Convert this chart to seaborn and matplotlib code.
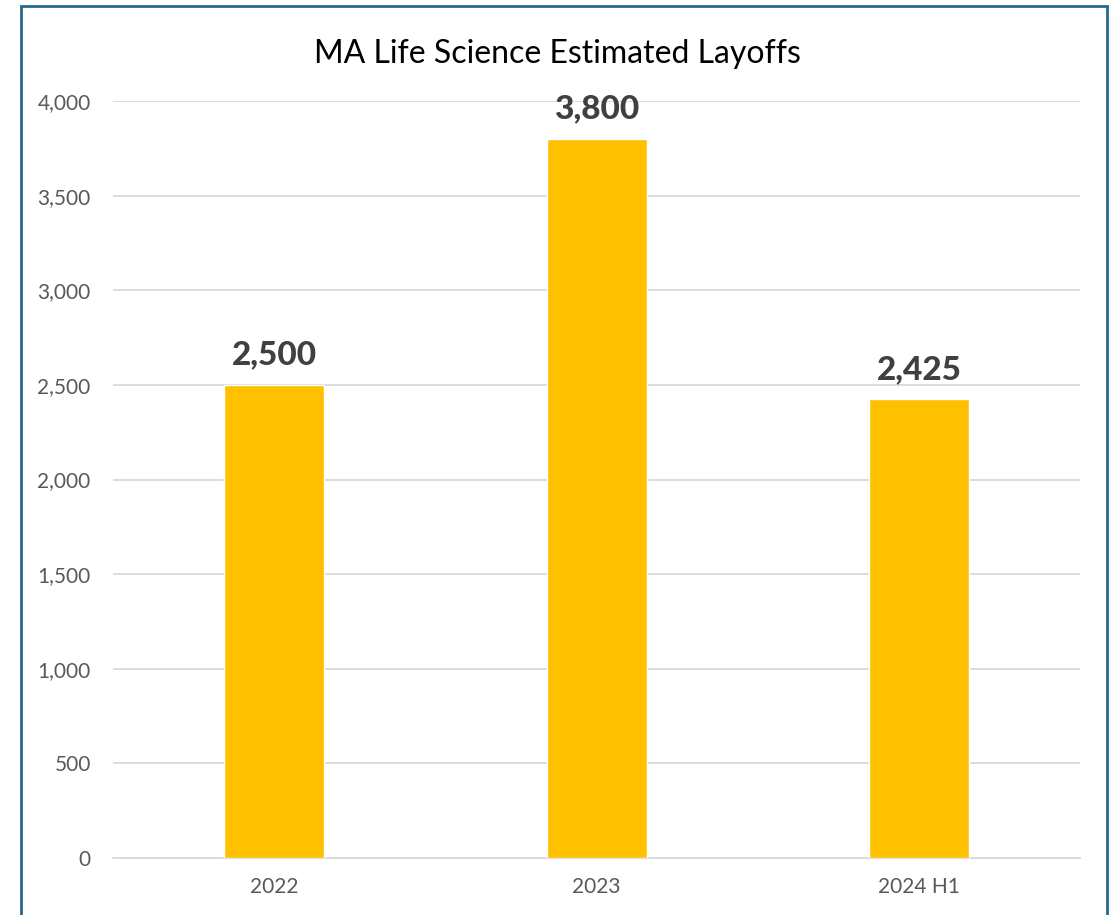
import matplotlib.pyplot as plt
import matplotlib.patches as patches
import pandas as pd
import seaborn as sns

# chart data
periods = ['2022', '2023', '2024 H1']
layoffs = [2500, 3800, 2425]
yticks = [0, 500, 1000, 1500, 2000, 2500, 3000, 3500, 4000]

sns.set_style('white')
plt.rcParams['font.family'] = ['Lato', 'DejaVu Sans']

df = pd.DataFrame({'period': periods, 'layoffs': layoffs})

fig = plt.figure(figsize=(11.14, 9.15), dpi=100)
ax = fig.add_axes([0.1014, 0.0623, 0.8682, 0.8273])

sns.barplot(data=df, x='period', y='layoffs', color='#FFC000',
            saturation=1, width=0.31, ax=ax, zorder=3)

ax.set_ylim(0, 4000)
ax.set_xlim(-0.5, 2.5)
ax.set_yticks(yticks)
ax.set_yticklabels([f'{v:,}' for v in yticks])
ax.yaxis.grid(True, color='#D9D9D9', lw=1.3, zorder=0)
ax.set_axisbelow(True)
for s in ['top', 'right', 'left']:
    ax.spines[s].set_visible(False)
ax.spines['bottom'].set_color('#D9D9D9')
ax.spines['bottom'].set_linewidth(1.3)
ax.tick_params(axis='both', length=0, labelsize=15, labelcolor='#595959')
ax.tick_params(axis='y', pad=16)
ax.tick_params(axis='x', pad=14)
ax.set_xlabel('')
ax.set_ylabel('')

# data labels
for i, v in enumerate(layoffs):
    ax.text(i, v + 80, f'{v:,}', ha='center', va='bottom',
            fontsize=24, fontweight='black', color='#404040')

fig.text(0.5, 0.941, 'MA Life Science Estimated Layoffs', ha='center',
         va='center', fontsize=23, color='black')

# frame around the chart
fig.patches.append(patches.Rectangle(
    (21 / 1114, -0.05), 1086 / 1114, 1.05 - 6 / 915,
    transform=fig.transFigure, fill=False, edgecolor='#236A8E', lw=2))

fig.savefig('out.png', dpi=100)
